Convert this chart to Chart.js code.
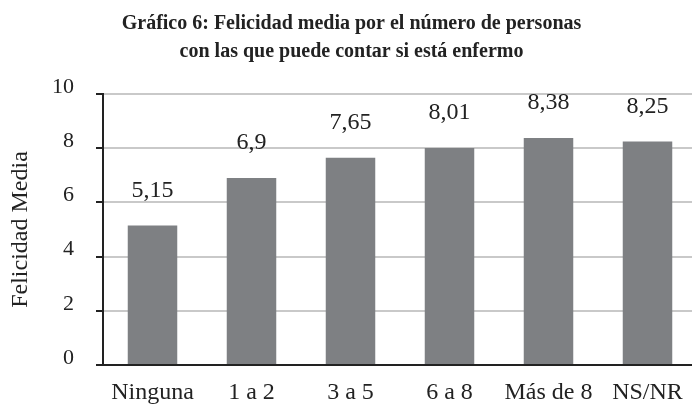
<!DOCTYPE html>
<html>
<head>
<meta charset="utf-8">
<script src="https://cdn.jsdelivr.net/npm/chart.js@4"></script>
<style>
  html, body { margin: 0; padding: 0; background: #fff; overflow: hidden; }
  #wrap { width: 697px; height: 410px; }
</style>
</head>
<body>
<div id="wrap"><canvas id="chart" width="697" height="410"></canvas></div>
<script>
const categories = ['Ninguna', '1 a 2', '3 a 5', '6 a 8', 'Más de 8', 'NS/NR'];
const felicidad  = [5.15, 6.9, 7.65, 8.01, 8.38, 8.25];
const yTicks     = [0, 2, 4, 6, 8, 10];

const SERIF = '"Liberation Serif", "DejaVu Serif", serif';
const INK = '#222';

// value labels above each bar, comma decimal
const valueLabels = {
  id: 'valueLabels',
  afterDatasetsDraw(chart) {
    const { ctx } = chart;
    const meta = chart.getDatasetMeta(0);
    ctx.save();
    ctx.font = `24px ${SERIF}`;
    ctx.fillStyle = INK;
    ctx.textAlign = 'center';
    ctx.textBaseline = 'middle';
    meta.data.forEach((bar, i) => {
      const txt = String(felicidad[i]).replace('.', ',');
      ctx.fillText(txt, bar.x, bar.y - 35);
    });
    ctx.restore();
  }
};

new Chart(document.getElementById('chart'), {
  type: 'bar',
  data: {
    labels: categories,
    datasets: [{
      data: felicidad,
      backgroundColor: '#7e8083',
      borderWidth: 0,
      barPercentage: 0.5,
      categoryPercentage: 1
    }]
  },
  options: {
    responsive: false,
    animation: false,
    layout: { padding: { left: 6, right: 0, top: 0, bottom: 6 } },
    plugins: {
      legend: { display: false },
      tooltip: { enabled: false },
      title: {
        display: true,
        text: ['Gráfico 6: Felicidad media por el número de personas', 'con las que puede contar si está enfermo'],
        color: INK,
        font: { family: SERIF, size: 20, weight: 'bold', lineHeight: 1.4 },
        padding: { top: 10, bottom: 28 }
      }
    },
    scales: {
      x: {
        grid: { display: false, drawTicks: false },
        border: { display: true, color: INK, width: 2 },
        ticks: { color: INK, font: { family: SERIF, size: 24 }, padding: 13, maxRotation: 0, autoSkip: false },
        afterFit(scale) { scale.height = 39; }
      },
      y: {
        min: 0, max: 10,
        afterBuildTicks(scale) { scale.ticks = yTicks.map(v => ({ value: v })); },
        afterFit(scale) { scale.width = 97; },
        grid: {
          color: (c) => c.tick && c.tick.value === 0 ? 'rgba(0,0,0,0)' : '#c9c9c9',
          lineWidth: 2,
          tickColor: INK,
          tickLength: 7,
          drawTicks: true
        },
        border: { display: true, color: INK, width: 2 },
        ticks: { color: INK, font: { family: SERIF, size: 22 }, padding: 22, labelOffset: -7 },
        title: {
          display: true,
          text: 'Felicidad Media',
          color: INK,
          font: { family: SERIF, size: 24 },
          padding: { top: 0, bottom: 0 }
        }
      }
    }
  },
  plugins: [valueLabels]
});
</script>
</body>
</html>
